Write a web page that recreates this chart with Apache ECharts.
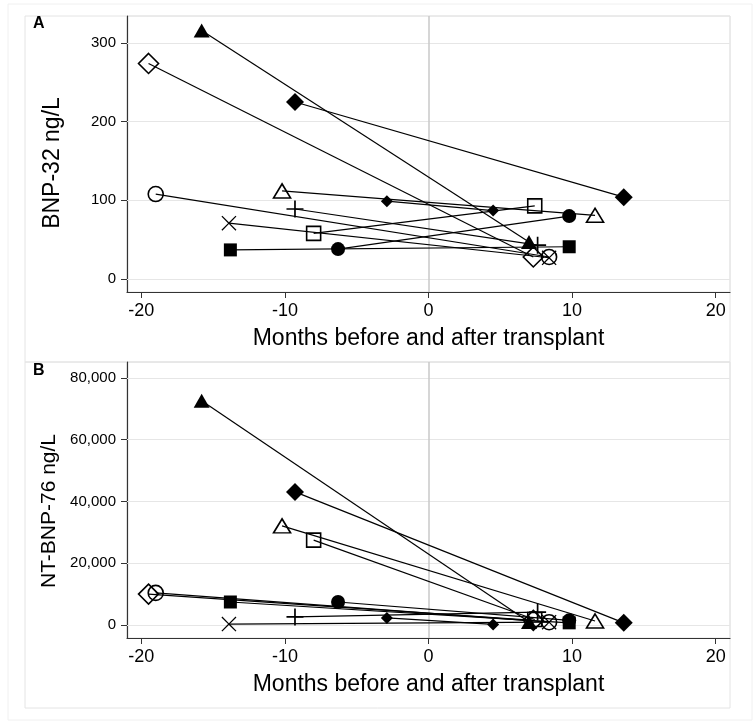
<!DOCTYPE html>
<html>
<head>
<meta charset="utf-8">
<script src="https://cdn.jsdelivr.net/npm/echarts@6/dist/echarts.min.js"></script>
<style>html,body{margin:0;padding:0;background:#fff;}#c{width:756px;height:726px;}</style>
</head>
<body>
<div id="c"></div>
<script>
// ---- data (one entry per patient) ----
const monthsPre  = [-15.8, -19.5, -9.3, -19.0, -10.2, -2.9, -9.3, -13.9, -8.0, -13.8, -6.3];
const monthsPost = [7.0, 7.3, 13.6, 8.4, 11.6, 4.5, 7.6, 8.4, 7.4, 9.8, 9.8];
const bnpPre  = [316, 274, 225, 108, 112, 99, 89, 71, 58, 37, 38];
const bnpPost = [47, 28, 104, 28, 81, 87, 43, 27, 93, 41, 80];
const ntPre   = [72600, 10000, 43100, 10400, 32100, 2300, 2600, 300, 27500, 7450, 7450];
const ntPost  = [1000, 1500, 700, 900, 1300, 200, 4200, 900, 1800, 700, 1500];
const xTicks   = [-20, -10, 0, 10, 20];
const bnpTicks = [0, 100, 200, 300];
const ntTicks  = [0, 20000, 40000, 60000, 80000];
const xTitle = 'Months before and after transplant';
const yTitleA = 'BNP-32 ng/L';
const yTitleB = 'NT-BNP-76 ng/L';

// ---- marker styles ----
const PLUS = 'path://M45,0 H55 V45 H100 V55 H55 V100 H45 V55 H0 V45 H45 Z';
const CROSS = 'path://M0,6 L6,0 L50,44 L94,0 L100,6 L56,50 L100,94 L94,100 L50,56 L6,100 L0,94 L44,50 Z';
const markers = [
  {symbol:'triangle', size:[16,14], hollow:false},
  {symbol:'diamond',  size:[20,20], hollow:true},
  {symbol:'diamond',  size:[18,18], hollow:false},
  {symbol:'circle',   size:15, hollow:true},
  {symbol:'triangle', size:[17,14], hollow:true},
  {symbol:'diamond',  size:[12,12], hollow:false},
  {symbol:PLUS,       size:17, hollow:false},
  {symbol:CROSS,      size:15, hollow:false},
  {symbol:'rect',     size:14, hollow:true},
  {symbol:'rect',     size:13, hollow:false},
  {symbol:'circle',   size:14, hollow:false}
];

const FONT = '"Liberation Sans", Arial, Helvetica, sans-serif';
const axisCol = '#333';

function xAxisCfg(idx) {
  return {
    type:'value', gridIndex: idx, min:-21, max:21,
    name: xTitle, nameLocation:'middle', nameGap:35,
    nameTextStyle:{fontFamily:FONT, fontSize:23, color:'#000'},
    axisLine:{show:true, onZero:false, lineStyle:{color:axisCol, width:1.2}},
    axisTick:{show:true, length:6, customValues:xTicks, lineStyle:{color:axisCol, width:1}},
    axisLabel:{show:true, customValues:xTicks, margin:10, fontFamily:FONT, fontSize:18, color:'#000'},
    splitLine:{show:false}
  };
}
function yAxisCfg(idx, min, max, ticks, title, fmt, titleSize, gap, shift) {
  return {
    type:'value', gridIndex: idx, min:min, max:max,
    name: title, nameLocation:'middle', nameGap:gap, nameRotate:90,
    nameTextStyle:{fontFamily:FONT, fontSize:titleSize, color:'#000', padding:[0,shift,0,0]},
    axisLine:{show:true, onZero:false, lineStyle:{color:axisCol, width:1.2}},
    axisTick:{show:true, length:6, customValues:ticks, lineStyle:{color:axisCol, width:1}},
    axisLabel:{show:true, customValues:ticks, margin:11, fontFamily:FONT, fontSize:15, color:'#000', formatter: fmt},
    splitLine:{show:false}
  };
}

const series = [];
function addPanel(idx, pre, post, ticks) {
  for (let i = 0; i < pre.length; i++) {
    const m = markers[i];
    const s = {
      type:'line', xAxisIndex:idx, yAxisIndex:idx,
      data:[[monthsPre[i], pre[i]], [monthsPost[i], post[i]]],
      symbol:m.symbol, symbolSize:m.size, showSymbol:true,
      lineStyle:{color:'#000', width:1.2},
      itemStyle: m.hollow ? {color:'rgba(0,0,0,0)', borderColor:'#000', borderWidth:1.6}
                          : {color:'#000', borderWidth:0},
      emphasis:{disabled:true}, silent:true, z:3
    };
    if (i === 0) {
      s.markLine = {
        silent:true, symbol:['none','none'], z:1, animation:false,
        label:{show:false},
        data: ticks.map(v => ({yAxis:v, lineStyle:{color:'#e6e6e6', width:1.2, type:'solid'}}))
              .concat([{xAxis:0, lineStyle:{color:'#c8c8c8', width:1.5, type:'solid'}}])
      };
    }
    series.push(s);
  }
}
addPanel(0, bnpPre, bnpPost, bnpTicks);
addPanel(1, ntPre, ntPost, ntTicks);

const chart = echarts.init(document.getElementById('c'), null, {renderer:'canvas'});
chart.setOption({
  animation:false,
  backgroundColor:'#fff',
  grid:[
    {left:127, top:16, width:603, height:276, show:true, borderColor:'#e4e4e4', borderWidth:1},
    {left:127, top:362, width:603, height:276, show:true, borderColor:'#e4e4e4', borderWidth:1}
  ],
  xAxis:[xAxisCfg(0), xAxisCfg(1)],
  yAxis:[
    yAxisCfg(0, -16.5, 334.3, bnpTicks, yTitleA, v => String(v), 23, 63, 18),
    yAxisCfg(1, -4211, 85182, ntTicks, yTitleB, v => v.toLocaleString('en-US'), 21, 66, 22)
  ],
  graphic:[
    {type:'rect', z:-10, shape:{x:8, y:4, width:744, height:716}, style:{fill:'none', stroke:'#f0f0f0', lineWidth:1}},
    {type:'rect', z:-5, shape:{x:25, y:16, width:705, height:346}, style:{fill:'none', stroke:'#e4e4e4', lineWidth:1}},
    {type:'rect', z:-5, shape:{x:25, y:362, width:705, height:346}, style:{fill:'none', stroke:'#e4e4e4', lineWidth:1}},
    {type:'text', left:33, top:16, style:{text:'A', font:'bold 16px ' + FONT, fill:'#000'}},
    {type:'text', left:33, top:363, style:{text:'B', font:'bold 16px ' + FONT, fill:'#000'}}
  ],
  series: series
});
</script>
</body>
</html>
